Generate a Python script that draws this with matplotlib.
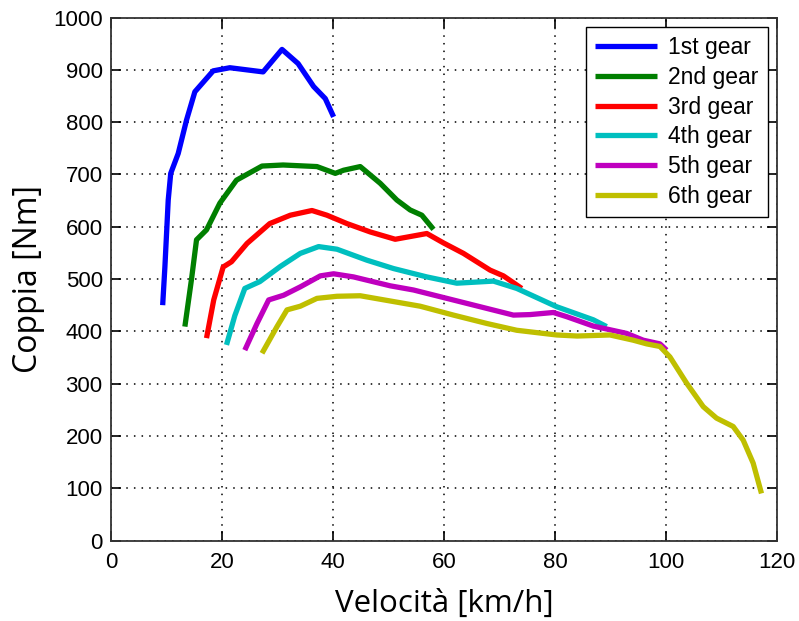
import matplotlib.pyplot as plt

# ======= DATI ==============================
x_1 = [9.3, 9.7, 10.3, 10.75, 12.1, 13.6, 15.1, 18.4, 21.4, 24.4, 27.4, 30.8, 33.7, 36.5, 38.6, 40.1]
y_1 = [450, 523, 651, 702, 740, 804, 858, 898, 904, 900, 896, 939, 912, 868, 845, 810]

x_2 = [13.3, 14.5, 15.4, 17.2, 19.6, 22.6, 27.2, 31.0, 37.1, 40.4, 41.9, 44.9, 48.5, 51.5, 53.9, 56.0, 58.1]
y_2 = [409, 500, 575, 594, 645, 689, 716, 718, 715, 702, 708, 715, 683, 651, 632, 622, 595]

x_3 = [17.2, 18.5, 20.2, 21.7, 24.5, 28.6, 32.3, 36.2, 38.9, 42.5, 46.7, 51.2, 56.9, 59.9, 63.5, 68.3, 70.7, 74.0]
y_3 = [387, 460, 523, 533, 568, 606, 622, 631, 622, 606, 590, 576, 587, 569, 549, 517, 506, 482]

x_4 = [20.8, 22.3, 24.1, 26.8, 30.5, 34.1, 37.4, 40.7, 46.1, 50.9, 56.9, 62.3, 68.9, 73.1, 80.3, 86.9, 89.3]
y_4 = [374, 430, 482, 495, 524, 549, 562, 557, 536, 520, 504, 492, 496, 482, 447, 422, 409]

x_5 = [24.1, 26.3, 28.4, 31.1, 34.1, 37.7, 40.1, 43.7, 50.3, 54.5, 60.5, 66.5, 72.5, 75.5, 79.7, 82.1, 86.9, 92.9, 95.9, 98.9, 100.1]
y_5 = [364, 415, 460, 469, 485, 506, 510, 504, 487, 479, 463, 447, 431, 432, 436, 428, 410, 396, 383, 376, 364]

x_6 = [27.2, 29.9, 31.7, 34.1, 37.1, 40.7, 44.9, 50.3, 55.7, 61.7, 67.7, 73.1, 80.3, 84.0, 89.9, 94.1, 96.5, 98.9,
       100.7, 103.7, 106.7, 109.1, 112.1, 113.9, 115.7, 117.2]
y_6 = [358, 409, 441, 448, 463, 467, 468, 458, 448, 431, 415, 402, 393, 391, 393, 383, 376, 371,
       351, 301, 256, 234, 218, 192, 148, 90]

etichette = ["1st gear", "2nd gear", "3rd gear", "4th gear", "5th gear", "6th gear"]
colori = ["#0000ff", "#007f00", "#ff0000", "#00bfbf", "#bf00bf", "#bfbf00"]
# ===========================================

plt.rcParams['font.family'] = ['Liberation Sans', 'DejaVu Sans']

fig = plt.figure(figsize=(7.99, 6.21), dpi=100)
ax = fig.add_axes([0.139, 0.1296, 0.8335, 0.8422])

serie = [(x_1, y_1), (x_2, y_2), (x_3, y_3), (x_4, y_4), (x_5, y_5), (x_6, y_6)]
for (xs, ys), lab, col in zip(serie, etichette, colori):
    ax.plot(xs, ys, color=col, linewidth=3.8, label=lab, solid_capstyle='butt')

ax.set_xlim(0, 120)
ax.set_ylim(0, 1000)
ax.set_xticks(range(0, 121, 20))
ax.set_yticks(range(0, 1001, 100))
ax.tick_params(direction='in', top=True, right=True, labelsize=16, length=7, width=1.2, pad=6)
ax.tick_params(axis='x', pad=8)
ax.grid(True, color='black', linestyle=(0, (1, 4)), linewidth=1.1)
for s in ax.spines.values():
    s.set_color('#333333')
    s.set_linewidth(1.3)

ax.set_xlabel("Velocità [km/h]", fontsize=22.5, family=['Open Sans', 'DejaVu Sans'], labelpad=12)
ax.set_ylabel("Coppia [Nm]", fontsize=23, family=['Open Sans', 'DejaVu Sans'], labelpad=6)

leg = ax.legend(loc='upper right', fontsize=16.5, fancybox=False, framealpha=1, edgecolor='black',
                handlelength=2.7, borderaxespad=0.4, labelspacing=0.3, handletextpad=0.5,
                borderpad=0.4)
leg.get_frame().set_linewidth(1.0)

fig.savefig("out.png", dpi=100)
plt.close()
